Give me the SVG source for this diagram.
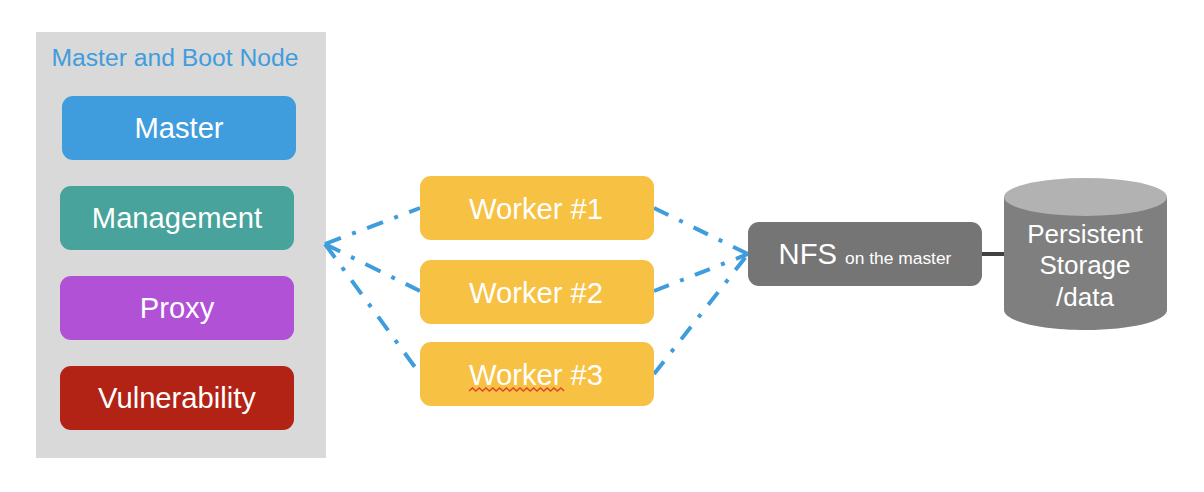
<svg xmlns="http://www.w3.org/2000/svg" width="1204" height="492" viewBox="0 0 1204 492">
<style>
text{font-family:"Liberation Sans",Arial,sans-serif;fill:#fff;text-anchor:middle}
.n{font-size:29.200px}
.s{font-size:26px}
.c{fill:none;stroke:#3f9ddd;stroke-width:4}
.l{stroke-dasharray:17 12 4 12}
.r{stroke-dasharray:16 12 4 12}
</style>
<rect width="1204" height="492" fill="#fff"/>
<g id="boot-node">
<rect x="36" y="32" width="290" height="426" fill="#d9d9d9"/>
<text x="175" y="66" font-size="24.700" style="fill:#3f9ddd">Master and Boot Node</text>
</g>
<g id="master"><rect x="62" y="96" width="234" height="64" rx="11" fill="#3f9ddd"/><text class="n" x="179" y="138">Master</text></g>
<g id="management"><rect x="60" y="186" width="234" height="64" rx="11" fill="#47a39b"/><text class="n" x="177" y="228">Management</text></g>
<g id="proxy"><rect x="60" y="276" width="234" height="64" rx="11" fill="#b151d6"/><text class="n" x="177" y="318">Proxy</text></g>
<g id="vulnerability"><rect x="60" y="366" width="234" height="64" rx="11" fill="#b22316"/><text class="n" x="177" y="408">Vulnerability</text></g>
<g id="connectors">
<path class="c l" d="M325 244L420 208"/>
<path class="c l" d="M325 244L420 291"/>
<path class="c l" d="M325 244L420 374"/>
<path class="c r" d="M654 208L748 254"/>
<path class="c r" d="M654 291L748 254"/>
<path class="c r" d="M654 374L748 254"/>
<path d="M982 254H1004" fill="none" stroke="#404040" stroke-width="4"/>
</g>
<g id="worker-1"><rect x="420" y="176" width="234" height="64" rx="11" fill="#f7c143"/><text class="n" x="536" y="219">Worker #1</text></g>
<g id="worker-2"><rect x="420" y="260" width="234" height="64" rx="11" fill="#f7c143"/><text class="n" x="536" y="303">Worker #2</text></g>
<g id="worker-3"><rect x="420" y="342" width="234" height="64" rx="11" fill="#f7c143"/><text class="n" x="536" y="385">Worker #3</text>
<path d="M469 391l3.400-3 3.400 3 3.400-3 3.400 3 3.400-3 3.400 3 3.400-3 3.400 3 3.400-3 3.400 3 3.400-3 3.400 3 3.400-3 3.400 3 3.400-3 3.400 3 3.400-3 3.400 3 3.400-3 3.400 3 3.400-3 3.400 3 3.400-3 3.400 3 3.400-3 3.400 3 3.400-3 3.400 3" fill="none" stroke="#e2452a" stroke-width="1.500"/></g>
<g id="nfs"><rect x="748" y="222" width="234" height="64" rx="11" fill="#757575"/><text x="865" y="264" style="font-size:29.200px"><tspan>NFS </tspan><tspan style="font-size:17.400px">on the master</tspan></text></g>
<g id="storage">
<path d="M1004 197V310C1004 321 1040 330 1085.500 330S1167 321 1167 310V197Z" fill="#7f7f7f"/>
<ellipse cx="1085.500" cy="197" rx="81.500" ry="19" fill="#b2b2b2"/>
<text class="s" x="1085" y="243">Persistent</text>
<text class="s" x="1085" y="274">Storage</text>
<text class="s" x="1085" y="306">/data</text>
</g>
</svg>
